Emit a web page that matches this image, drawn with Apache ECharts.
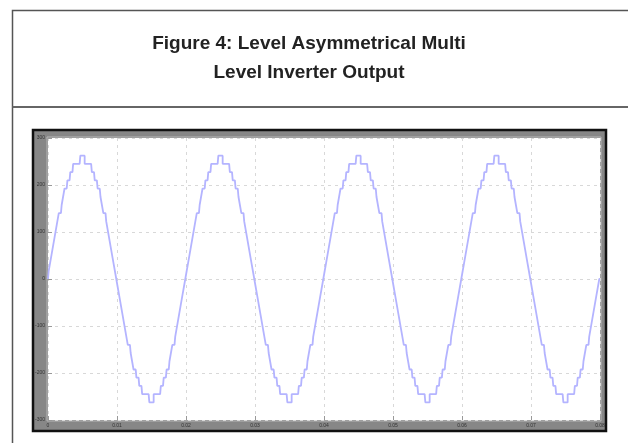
<!DOCTYPE html>
<html>
<head>
<meta charset="utf-8">
<script src="https://cdn.jsdelivr.net/npm/echarts@6/dist/echarts.min.js"></script>
<style>html,body{margin:0;padding:0;background:#fff;}#c{width:628px;height:443px;}</style>
</head>
<body>
<div id="c"></div>
<script>
// Title lines
const titleLines = ['Figure 4: Level Asymmetrical Multi', 'Level Inverter Output'];
// Axis ticks (time in s, voltage in V)
const xTicks = [0, 0.01, 0.02, 0.03, 0.04, 0.05, 0.06, 0.07, 0.08];
const yTicks = [-300, -200, -100, 0, 100, 200, 300];
// Sample spacing of the waveform (s) and voltage of one inverter level (V)
const sampleStep = 0.02 / 96;
const voltsPerLevel = 17.5;
// Output level, one 50 Hz cycle (96 samples)
const cycleLevels = [
  0, 1, 2, 3, 4, 5, 6, 7, 8, 8, 9, 10, 11, 11, 12, 12, 13, 13, 14, 14, 14, 14, 14, 15,
  15, 15, 14, 14, 14, 14, 14, 13, 13, 12, 12, 11, 11, 10, 9, 8, 8, 7, 6, 5, 4, 3, 2, 1,
  0, -1, -2, -3, -4, -5, -6, -7, -8, -8, -9, -10, -11, -11, -12, -12, -13, -13, -14, -14, -14, -14, -14, -15,
  -15, -15, -14, -14, -14, -14, -14, -13, -13, -12, -12, -11, -11, -10, -9, -8, -8, -7, -6, -5, -4, -3, -2, -1
];
const cycles = 4;

const data = [];
for (let c = 0; c < cycles; c++) {
  cycleLevels.forEach((lv, i) => {
    const k = c * cycleLevels.length + i;
    data.push([k * sampleStep, lv * voltsPerLevel]);
  });
}
data.push([cycles * cycleLevels.length * sampleStep, cycleLevels[0] * voltsPerLevel]);

const titleFont = 'bold 19px "Liberation Sans", Arial, sans-serif';
const chart = echarts.init(document.getElementById('c'), null, {renderer: 'canvas'});
chart.setOption({
  animation: false,
  backgroundColor: '#fff',
  graphic: [
    {type: 'rect', shape: {x: 12.5, y: 10.5, width: 640, height: 460}, style: {fill: 'none', stroke: '#555', lineWidth: 1.5}, z: 0},
    {type: 'line', shape: {x1: 12.5, y1: 107, x2: 640, y2: 107}, style: {stroke: '#666', lineWidth: 2}, z: 0},
    {type: 'text', x: 309, y: 44, style: {text: titleLines[0], font: titleFont, fill: '#222', textAlign: 'center', textVerticalAlign: 'middle'}},
    {type: 'text', x: 309, y: 73, style: {text: titleLines[1], font: titleFont, fill: '#222', textAlign: 'center', textVerticalAlign: 'middle'}},
    {type: 'rect', shape: {x: 33, y: 130, width: 573, height: 301}, style: {fill: '#878787', stroke: '#111', lineWidth: 2.5}, z: -1},
    {type: 'rect', shape: {x: 47, y: 137, width: 554, height: 284}, style: {fill: 'none', stroke: '#b8b8b8', lineWidth: 1}, z: -1}
  ],
  grid: {left: 48, top: 138, width: 552, height: 282, show: true, backgroundColor: '#fff', borderWidth: 0},
  xAxis: {
    type: 'value', min: xTicks[0], max: xTicks[xTicks.length - 1], interval: 0.01,
    axisLine: {show: false, onZero: false},
    axisTick: {show: true, inside: true, length: 4, lineStyle: {color: '#999'}},
    axisLabel: {fontSize: 5, color: '#333', margin: 3, formatter: v => String(+v.toFixed(2))},
    splitLine: {show: true, lineStyle: {color: '#d8d8d8', type: [3, 4], width: 1}}
  },
  yAxis: {
    type: 'value', min: yTicks[0], max: yTicks[yTicks.length - 1], interval: 100,
    axisLine: {show: false, onZero: false},
    axisTick: {show: true, inside: true, length: 4, lineStyle: {color: '#999'}},
    axisLabel: {fontSize: 5, color: '#333', margin: 3},
    splitLine: {show: true, lineStyle: {color: '#d8d8d8', type: [3, 4], width: 1}}
  },
  series: [{
    type: 'line', data: data, step: 'middle', symbol: 'none',
    lineStyle: {color: '#b4b4ff', width: 1.8}
  }]
});
</script>
</body>
</html>
